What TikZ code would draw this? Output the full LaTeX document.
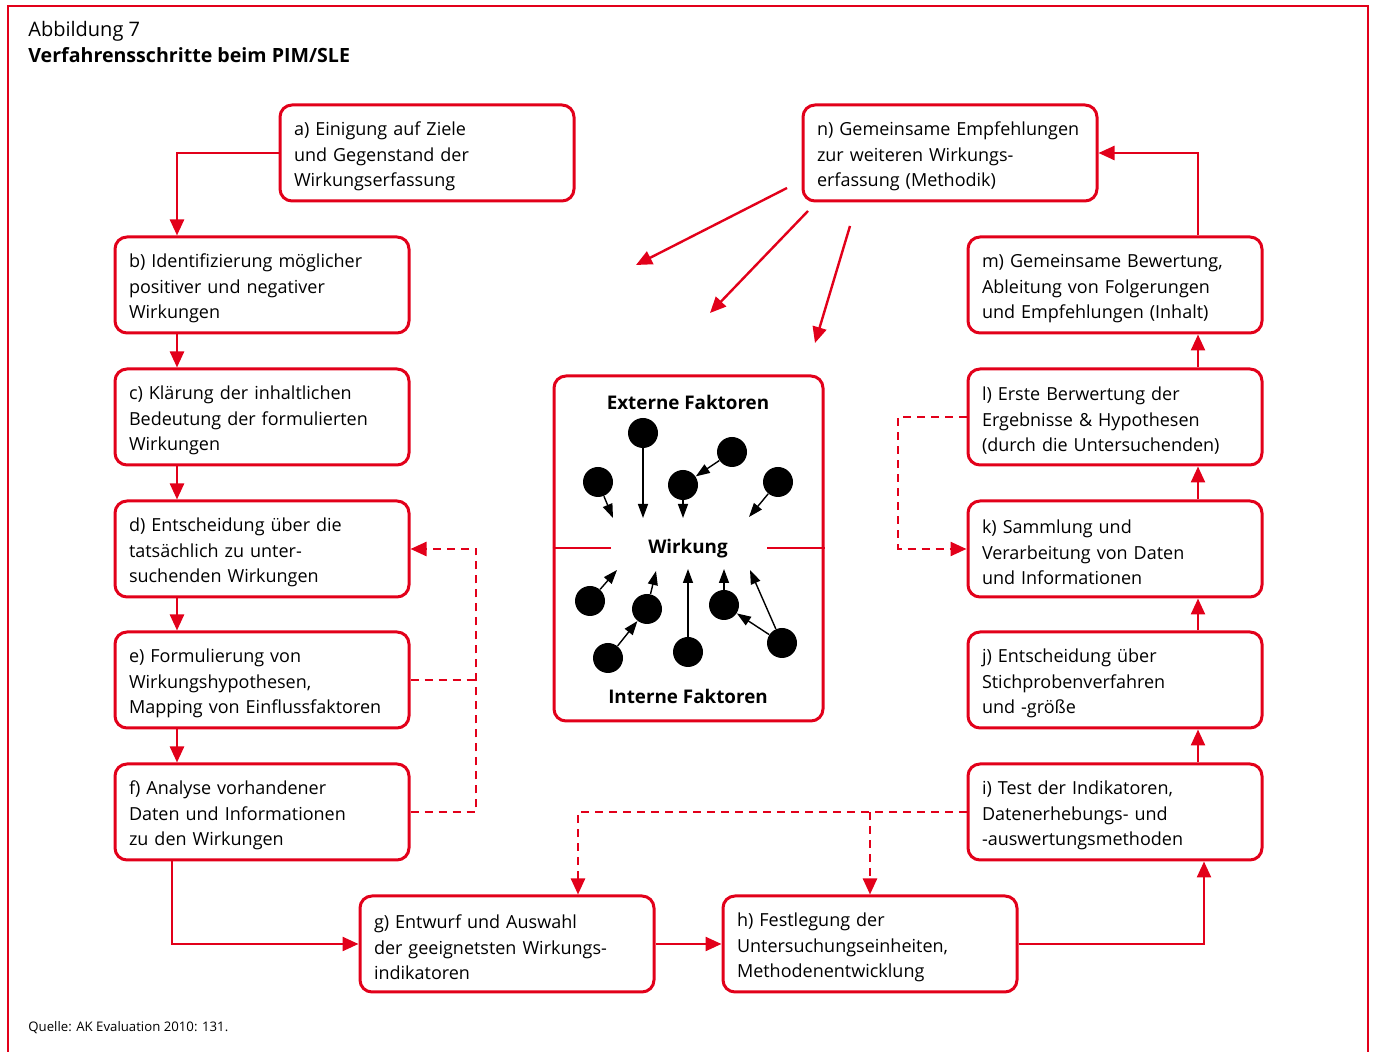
\documentclass[tikz,border=0pt]{standalone}
\usepackage{fontspec}
\setmainfont{Open Sans}
\usetikzlibrary{arrows.meta}

\definecolor{pimred}{HTML}{E2001A}

\tikzset{
	flowbox/.style = {draw = pimred, line width = 1.5pt, rounded corners = 6pt,
		text width = 133pt, inner xsep = 7pt, inner ysep = 0pt,
		minimum height = 48pt, align = left,
		execute at begin node = {\rule{0pt}{10.5pt}},
		font = \fontsize{9}{12.75}\selectfont},
	flowline/.style = {draw = pimred, line width = 1.2pt,
		-{Triangle[length = 8pt, width = 7pt]}},
	dashline/.style = {flowline, dash pattern = on 4pt off 3pt},
	dot/.style = {circle, fill = black, minimum size = 15pt, inner sep = 0pt},
	dotline/.style = {line width = 0.7pt, -{Triangle[length = 7pt, width = 5pt]}},
	factext/.style = {font = \fontsize{9.4}{11}\selectfont\bfseries}
}

\begin{document}
\begin{tikzpicture}[x = 0.5pt, y = -0.5pt]

	\useasboundingbox (0, 0) rectangle (1373, 1052);

	% Frame and captions

	\draw [pimred, line width = 1pt] (8, 1052) -- (8, 6) -- (1368, 6) -- (1368, 1052);

	\node [anchor = west, inner sep = 0pt, font = \fontsize{10}{12}\selectfont] (fig) at (28, 31) {Abbildung 7};
	\node [anchor = west, inner sep = 0pt, font = \fontsize{9.8}{12}\selectfont\bfseries] (title) at (28, 55) {Verfahrensschritte beim PIM/SLE};
	\node [anchor = west, inner sep = 0pt, font = \fontsize{6.6}{8}\selectfont] (source) at (28, 1028) {Quelle: AK Evaluation 2010: 131.};

	% Steps

	\node [flowbox] (a) at (427, 153) {a) Einigung auf Ziele\\und Gegenstand der\\Wirkungserfassung};
	\node [flowbox] (b) at (262, 285) {b) Identifizierung möglicher\\positiver und negativer\\Wirkungen};
	\node [flowbox] (c) at (262, 417) {c) Klärung der inhaltlichen\\Bedeutung der formulierten\\Wirkungen};
	\node [flowbox] (d) at (262, 549) {d) Entscheidung über die\\tatsächlich zu unter-\\suchenden Wirkungen};
	\node [flowbox] (e) at (262, 680) {e) Formulierung von\\Wirkungshypothesen,\\Mapping von Einflussfaktoren};
	\node [flowbox] (f) at (262, 812) {f) Analyse vorhandener\\Daten und Informationen\\zu den Wirkungen};
	\node [flowbox] (g) at (507, 944) {g) Entwurf und Auswahl\\der geeignetsten Wirkungs-\\indikatoren};
	\node [flowbox] (h) at (870, 944) {h) Festlegung der\\Untersuchungseinheiten,\\Methodenentwicklung};
	\node [flowbox] (i) at (1115, 812) {i) Test der Indikatoren,\\Datenerhebungs- und\\-auswertungsmethoden};
	\node [flowbox] (j) at (1115, 680) {j) Entscheidung über\\Stichprobenverfahren\\und -größe};
	\node [flowbox] (k) at (1115, 549) {k) Sammlung und\\Verarbeitung von Daten\\und Informationen};
	\node [flowbox] (l) at (1115, 417) {l) Erste Berwertung der\\Ergebnisse \& Hypothesen\\(durch die Untersuchenden)};
	\node [flowbox] (m) at (1115, 285) {m) Gemeinsame Bewertung,\\Ableitung von Folgerungen\\und Empfehlungen (Inhalt)};
	\node [flowbox] (n) at (950, 153) {n) Gemeinsame Empfehlungen\\zur weiteren Wirkungs-\\erfassung (Methodik)};

	% Helper columns

	\coordinate (lx) at (177, 0);
	\coordinate (fx) at (172, 0);
	\coordinate (rx) at (1198, 0);
	\coordinate (hx) at (1204, 0);
	\coordinate (dx) at (476, 0);
	\coordinate (kx) at (898, 0);
	\coordinate (gx) at (578, 0);

	% Solid connectors

	\draw [flowline] (a.west) -| (b.north -| lx);
	\draw [flowline] (b.south -| lx) -- (c.north -| lx);
	\draw [flowline] (c.south -| lx) -- (d.north -| lx);
	\draw [flowline] (d.south -| lx) -- (e.north -| lx);
	\draw [flowline] (e.south -| lx) -- (f.north -| lx);
	\draw [flowline] (f.south -| fx) |- (g.west);
	\draw [flowline] (g.east) -- (h.west);
	\draw [flowline] (h.east) -| (i.south -| hx);
	\draw [flowline] (i.north -| rx) -- (j.south -| rx);
	\draw [flowline] (j.north -| rx) -- (k.south -| rx);
	\draw [flowline] (k.north -| rx) -- (l.south -| rx);
	\draw [flowline] (l.north -| rx) -- (m.south -| rx);
	\draw [flowline] (m.north -| rx) |- (n.east);

	% Dashed connectors

	\draw [dashline, -] (e.east) -- (e.east -| dx);
	\draw [dashline] (f.east) -| (d.east -| dx) -- (d.east);
	\draw [dashline] (l.west) -| (k.west -| kx) -- (k.west);
	\draw [dashline] (i.west) -| (gx |- g.north);
	\draw [dashline] (i.west -| h.north) -- (h.north);

	% Arrows out of n

	\coordinate (n1) at (787, 188);
	\coordinate (n2) at (808, 211);
	\coordinate (n3) at (850, 226);
	\coordinate (t1) at (636, 265);
	\coordinate (t2) at (710, 313);
	\coordinate (t3) at (815, 343);
	\draw [flowline] (n1) -- (t1);
	\draw [flowline] (n2) -- (t2);
	\draw [flowline] (n3) -- (t3);

	% Factors

	\node [draw = pimred, line width = 1.5pt, rounded corners = 6pt,
		minimum width = 134.5pt, minimum height = 172.5pt] (fac) at (688.5, 548.5) {};
	\node [factext] (ext) at (688, 402) {Externe Faktoren};
	\node [factext] (wirk) at (688, 549) {Wirkung};
	\node [factext] (int) at (688, 696) {Interne Faktoren};
	\draw [pimred, line width = 1.2pt] (fac.west |- 0, 548) -- (611, 548);
	\draw [pimred, line width = 1.2pt] (767, 548) -- (fac.east |- 0, 548);

	\node [dot] (e1) at (643, 433) {};
	\node [dot] (e2) at (732, 452) {};
	\node [dot] (e3) at (598, 482) {};
	\node [dot] (e4) at (683, 485) {};
	\node [dot] (e5) at (778, 482) {};
	\node [dot] (i1) at (590, 601) {};
	\node [dot] (i2) at (647, 609) {};
	\node [dot] (i3) at (608, 658) {};
	\node [dot] (i4) at (688, 652) {};
	\node [dot] (i5) at (724, 605) {};
	\node [dot] (i6) at (782, 643) {};

	\coordinate (p1) at (643, 518);
	\coordinate (p3) at (613, 518);
	\coordinate (p4) at (683, 518);
	\coordinate (p5) at (749, 517);
	\coordinate (q1) at (617, 570);
	\coordinate (q2) at (656, 571);
	\coordinate (q4) at (688, 569);
	\coordinate (q5) at (724, 569);
	\coordinate (q6) at (750, 570);

	\draw [dotline] (e1) -- (p1);
	\draw [dotline] (e2) -- (e4);
	\draw [dotline] (e3) -- (p3);
	\draw [dotline] (e4) -- (p4);
	\draw [dotline] (e5) -- (p5);
	\draw [dotline] (i1) -- (q1);
	\draw [dotline] (i2) -- (q2);
	\draw [dotline] (i3) -- (i2);
	\draw [dotline] (i4) -- (q4);
	\draw [dotline] (i5) -- (q5);
	\draw [dotline] (i6) -- (q6);
	\draw [dotline] (i6) -- (i5);

\end{tikzpicture}
\end{document}
